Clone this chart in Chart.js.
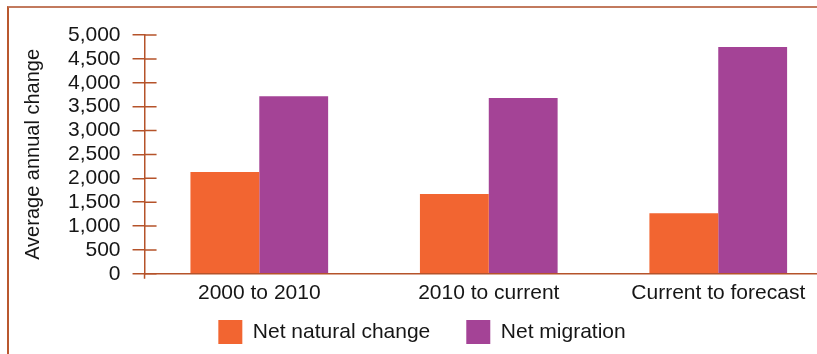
<!DOCTYPE html>
<html>
<head>
<meta charset="utf-8">
<script src="https://cdn.jsdelivr.net/npm/chart.js@4"></script>
<style>
  html, body { margin: 0; padding: 0; background: #fff; overflow: hidden; }
  #wrap { position: relative; width: 817px; height: 354px; overflow: hidden; }
  #frame {
    position: absolute; left: 7px; top: 6px; width: 900px; height: 400px;
    border-left: 2px solid #b9582f; border-top: 2px solid #c27a5e;
  }
  #chart { position: absolute; left: 0; top: 0; }
</style>
</head>
<body>
<div id="wrap">
  <div id="frame"></div>
  <canvas id="chart" width="850" height="387"></canvas>
</div>
<script>
const categories = ['2000 to 2010', '2010 to current', 'Current to forecast'];
const naturalChange = [2130, 1670, 1270];
const netMigration = [3720, 3680, 4750];

const AXIS = '#b5532a';
const FONT = '"Liberation Sans", Arial, Helvetica, sans-serif';
const LEGEND_PAD = 36;
const LEGEND_LIFT = LEGEND_PAD - 7;

// short tick marks that poke into the plot area, plus the little stub below zero
const innerTicks = {
  id: 'innerTicks',
  afterDraw(chart) {
    const { ctx, scales: { y } } = chart;
    const x0 = y.right;
    ctx.save();
    ctx.strokeStyle = AXIS;
    ctx.lineWidth = 1.5;
    ctx.beginPath();
    y.ticks.forEach((t) => {
      const py = y.getPixelForValue(t.value);
      ctx.moveTo(x0, py);
      ctx.lineTo(x0 + 12, py);
    });
    ctx.moveTo(x0, y.bottom);
    ctx.lineTo(x0, y.bottom + 5);
    ctx.stroke();
    ctx.restore();
  }
};

// the legend padding spaces the items apart; pull the row back up under the labels
const liftLegend = {
  id: 'liftLegend',
  afterLayout(chart) {
    const lg = chart.legend;
    lg.top -= LEGEND_LIFT;
    lg.bottom -= LEGEND_LIFT;
  }
};

new Chart(document.getElementById('chart'), {
  type: 'bar',
  data: {
    labels: categories,
    datasets: [
      {
        label: 'Net natural change',
        data: naturalChange,
        backgroundColor: '#f26531',
      },
      {
        label: 'Net migration',
        data: netMigration,
        backgroundColor: '#a44396',
      },
    ],
  },
  options: {
    responsive: false,
    animation: false,
    devicePixelRatio: 1,
    layout: { padding: { left: 11, right: 17, top: 35, bottom: 4 } },
    datasets: {
      bar: { categoryPercentage: 0.6, barPercentage: 1.0 },
    },
    plugins: {
      tooltip: { enabled: false },
      legend: {
        position: 'bottom',
        labels: {
          boxWidth: 24,
          boxHeight: 24,
          padding: LEGEND_PAD,
          color: '#161616',
          font: { family: FONT, size: 21 },
        },
      },
    },
    scales: {
      x: {
        grid: { display: false, drawTicks: false },
        border: { display: true, color: AXIS, width: 1.5 },
        ticks: {
          color: '#161616',
          padding: 7,
          maxRotation: 0,
          font: { family: FONT, size: 21 },
        },
      },
      y: {
        min: 0,
        max: 5000,
        border: { display: true, color: AXIS, width: 1.5 },
        grid: {
          drawOnChartArea: false,
          drawTicks: true,
          tickLength: 12,
          color: AXIS,
          lineWidth: 1.5,
        },
        ticks: {
          stepSize: 500,
          autoSkip: false,
          padding: 12,
          color: '#161616',
          font: { family: FONT, size: 21 },
          callback: (v) => v.toLocaleString('en-US'),
        },
        title: {
          display: true,
          text: 'Average annual change',
          color: '#161616',
          padding: { top: 10, bottom: 11 },
          font: { family: FONT, size: 20 },
        },
      },
    },
  },
  plugins: [innerTicks, liftLegend],
});
</script>
</body>
</html>
